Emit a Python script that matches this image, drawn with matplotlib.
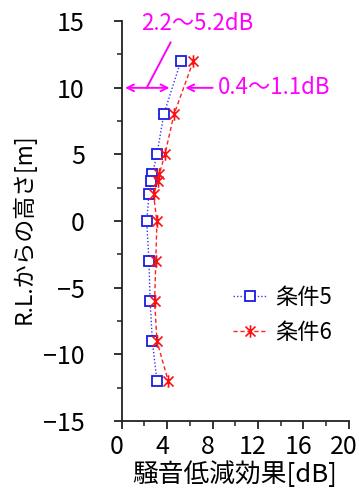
import matplotlib
matplotlib.use("Agg")
import matplotlib.pyplot as plt
from matplotlib.path import Path
from matplotlib.ticker import MultipleLocator
from matplotlib.transforms import ScaledTranslation

plt.rcParams['font.family'] = ['Noto Sans CJK JP', 'DejaVu Sans']

# Height above R.L. [m]
heights = [12, 8, 5, 3.5, 3, 2, 0, -3, -6, -9, -12]
# Noise reduction effect [dB]
cond5 = [5.2, 3.7, 3.1, 2.7, 2.6, 2.4, 2.2, 2.4, 2.5, 2.7, 3.1]
cond6 = [6.3, 4.6, 3.8, 3.3, 3.2, 2.8, 3.1, 3.0, 2.9, 3.1, 4.1]
labels = ['条件5', '条件6']

x_ticks = [0, 4, 8, 12, 16, 20]
y_ticks = [-15, -10, -5, 0, 5, 10, 15]

range5_text = '2.2～5.2dB'
diff_text = '0.4～1.1dB'
magenta = '#FF00FF'

# asterisk marker: an X with a vertical bar through it
star = Path([(-1, -1), (1, 1), (-1, 1), (1, -1), (0, -1.25), (0, 1.25)],
            [Path.MOVETO, Path.LINETO, Path.MOVETO, Path.LINETO,
             Path.MOVETO, Path.LINETO])

fig = plt.figure(figsize=(3.59, 4.92), dpi=100)
ax = fig.add_axes([0.339, 0.144, 0.633, 0.813])

ax.plot(cond5, heights, linestyle=(0, (1, 1.5)), color='#3333FF', lw=1.0,
        marker='s', markersize=7, markerfacecolor='white',
        markeredgecolor='#1a1aE6', markeredgewidth=1.3, label=labels[0])
ax.plot(cond6, heights, linestyle=(0, (3, 2)), color='#FF2020', lw=1.0,
        marker=star, markersize=9, markeredgecolor='#FF1010',
        markeredgewidth=1.2, label=labels[1])

ax.set_xlim(0, 20)
ax.set_ylim(-15, 15)
ax.set_xticks(x_ticks)
ax.set_yticks(y_ticks)
ax.xaxis.set_minor_locator(MultipleLocator(2))
ax.yaxis.set_minor_locator(MultipleLocator(2.5))

for s in ('top', 'right'):
    ax.spines[s].set_visible(False)
for s in ('left', 'bottom'):
    ax.spines[s].set_linewidth(1.3)
    ax.spines[s].set_color('#222222')

ax.tick_params(axis='both', which='major', length=5.5, width=1.3,
               color='#222222', labelsize=18)
ax.tick_params(axis='both', which='minor', length=3.5, width=1.1,
               color='#222222')
ax.tick_params(axis='y', which='major', pad=21)
ax.tick_params(axis='x', which='major', pad=4)

# x tick labels sit slightly left of their ticks
shift = ScaledTranslation(-5 / 100, 0, fig.dpi_scale_trans)
for lbl in ax.get_xticklabels():
    lbl.set_transform(lbl.get_transform() + shift)

ax.set_xlabel('騒音低減効果[dB]', fontsize=18.5)
ax.xaxis.set_label_coords(0.495, -0.1325)
ax.xaxis.label.set_va('center')
ax.set_ylabel('R.L.からの高さ[m]', fontsize=16.5)
ax.yaxis.set_label_coords(-0.43, 0.48)
ax.yaxis.label.set_va('center')

# range of 条件5 marked from the axis
ax.annotate('', xy=(0.3, 10), xytext=(4.2, 10),
            arrowprops=dict(arrowstyle='<->', color=magenta, lw=1.4,
                            shrinkA=0, shrinkB=0, mutation_scale=12),
            annotation_clip=False)
ax.plot([2.2, 4.3], [10, 13.4], color=magenta, lw=1.4, clip_on=False)
ax.text(1.7, 14.8, range5_text, color=magenta, fontsize=16,
        ha='left', va='center', clip_on=False)

# difference between the two conditions
ax.annotate('', xy=(5.6, 10), xytext=(8.0, 10),
            arrowprops=dict(arrowstyle='->', color=magenta, lw=1.4,
                            shrinkA=0, shrinkB=0, mutation_scale=12),
            annotation_clip=False)
ax.text(8.5, 10, diff_text, color=magenta, fontsize=16,
        ha='left', va='center', clip_on=False)

leg = fig.legend(loc='center left', bbox_to_anchor=(0.649, 0.36),
                 frameon=False, fontsize=16, handlelength=1.5,
                 handletextpad=0.4, labelspacing=0.55, borderpad=0,
                 borderaxespad=0)

fig.savefig('out.png', dpi=100)
